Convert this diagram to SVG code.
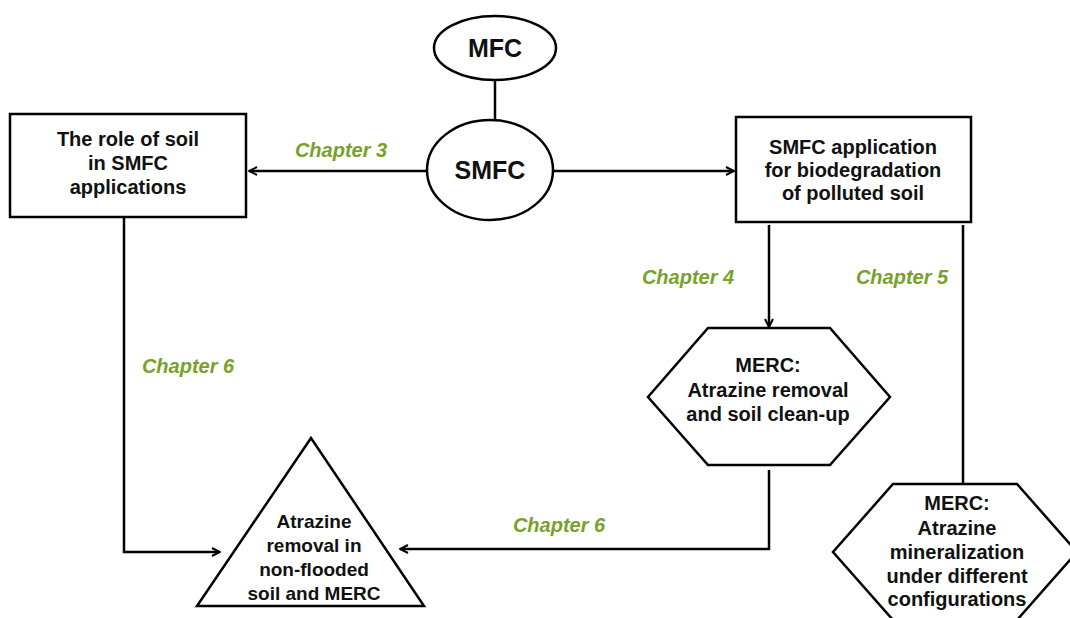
<svg xmlns="http://www.w3.org/2000/svg" width="1070" height="618" viewBox="0 0 1070 618">
<defs>
<marker id="arr" viewBox="0 0 10 10" refX="9" refY="5" markerWidth="10" markerHeight="10" markerUnits="userSpaceOnUse" orient="auto">
<path d="M1,1 L9,5 L1,9" fill="none" stroke="#000" stroke-width="2"/>
</marker>
<style>
.shape{fill:#fff;stroke:#000;stroke-width:2.5}
.t{font-family:"Liberation Sans",Arial,sans-serif;font-weight:bold;fill:#111;text-anchor:middle}
.n{font-size:20px}
.ch{font-family:"Liberation Sans",Arial,sans-serif;font-weight:bold;font-style:italic;font-size:20px;fill:#76a22a;text-anchor:middle}
.c{fill:none;stroke:#000;stroke-width:2.5}
</style>
</defs>
<rect width="1070" height="618" fill="#fff"/>
<g id="connectors">
<line class="c" x1="495" y1="80" x2="495" y2="120"/>
<line class="c" x1="428" y1="171" x2="249" y2="171" marker-end="url(#arr)"/>
<line class="c" x1="553" y1="171" x2="734" y2="171" marker-end="url(#arr)"/>
<line class="c" x1="769" y1="225" x2="769" y2="327" marker-end="url(#arr)"/>
<line class="c" x1="963" y1="225" x2="963" y2="484"/>
<polyline class="c" points="124,218 124,552 220,552" marker-end="url(#arr)"/>
<polyline class="c" points="769,470 769,549 400,549" marker-end="url(#arr)"/>
<text class="ch" x="341" y="157">Chapter 3</text>
<text class="ch" x="688" y="284">Chapter 4</text>
<text class="ch" x="902" y="284">Chapter 5</text>
<text class="ch" x="188" y="373">Chapter 6</text>
<text class="ch" x="559" y="532">Chapter 6</text>
</g>
<g id="mfc">
<ellipse class="shape" cx="495" cy="48" rx="61" ry="32"/>
<text class="t" x="495" y="57" font-size="25">MFC</text>
</g>
<g id="smfc">
<ellipse class="shape" cx="490" cy="170" rx="63" ry="50"/>
<text class="t" x="490" y="179" font-size="25">SMFC</text>
</g>
<g id="role">
<rect class="shape" x="10" y="114" width="236" height="103"/>
<text class="t n" x="128" y="146">The role of soil</text>
<text class="t n" x="128" y="170">in SMFC</text>
<text class="t n" x="128" y="194">applications</text>
</g>
<g id="application">
<rect class="shape" x="736" y="117" width="235" height="105"/>
<text class="t n" x="853" y="154">SMFC application</text>
<text class="t n" x="853" y="177">for biodegradation</text>
<text class="t n" x="853" y="200">of polluted soil</text>
</g>
<g id="merc1">
<polygon class="shape" points="708,328 830,328 890,397 830,465 708,465 648,397"/>
<text class="t n" x="768" y="372">MERC:</text>
<text class="t n" x="768" y="397">Atrazine removal</text>
<text class="t n" x="768" y="421">and soil clean-up</text>
</g>
<g id="merc2">
<polygon class="shape" points="893,484 1017,484 1077,552 1017,620 893,620 833,552"/>
<text class="t n" x="957" y="510">MERC:</text>
<text class="t n" x="957" y="535">Atrazine</text>
<text class="t n" x="957" y="559">mineralization</text>
<text class="t n" x="957" y="583">under different</text>
<text class="t n" x="957" y="606">configurations</text>
</g>
<g id="atrazine">
<polygon class="shape" points="311,438 424,606 197,606"/>
<text class="t" font-size="19" x="314" y="528">Atrazine</text>
<text class="t" font-size="19" x="314" y="552">removal in</text>
<text class="t" font-size="19" x="314" y="576">non-flooded</text>
<text class="t" font-size="19" x="314" y="600">soil and MERC</text>
</g>
</svg>
